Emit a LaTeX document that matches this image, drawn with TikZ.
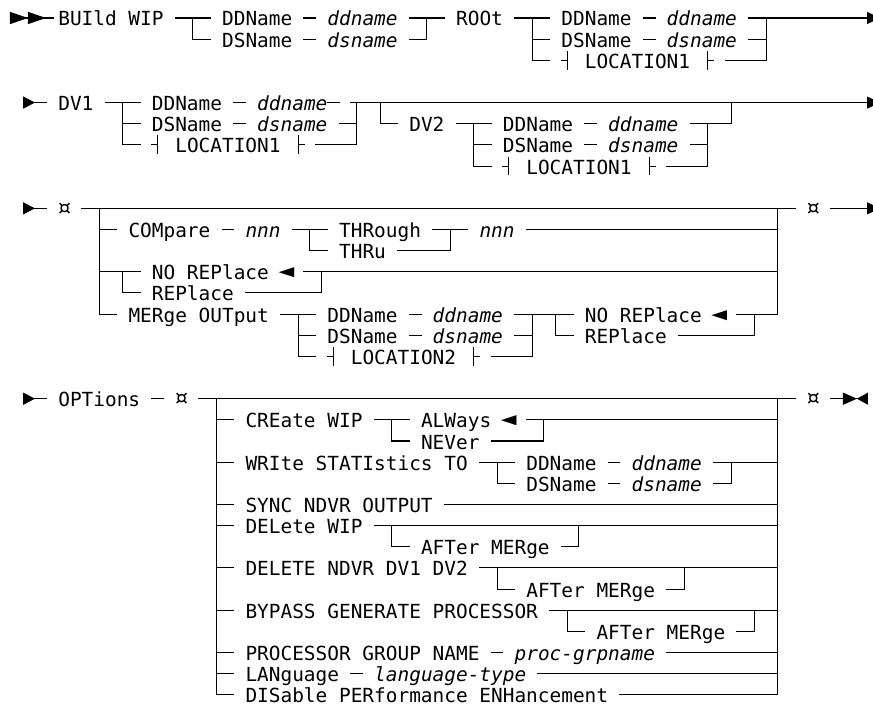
\documentclass[tikz,border=0pt]{standalone}
\usepackage{fontspec}
\usepackage{graphicx}
\setmainfont[ItalicFont={DejaVu Sans Mono Oblique}]{DejaVu Sans Mono}
\usetikzlibrary{arrows.meta,calc}
\newcommand\dflt{\makebox[11.7pt]{\scalebox{1.35}{◄}}}
\newcommand\cur{\makebox[11.7pt]{\scalebox{1.3}{¤}}}

\begin{document}
\begin{tikzpicture}[x=11.7pt,y=-21.15pt,
  every node/.style={anchor=west,inner sep=0pt,outer sep=0pt,text height=16pt,text depth=0pt,
    font=\fontsize{19.43pt}{21.15pt}\selectfont},
  var/.style={font=\fontsize{19.43pt}{21.15pt}\selectfont\itshape},
  rail/.style={line width=1.05pt,line cap=rect},
  go/.style={rail,arrows={Triangle[reversed,length=11.7pt,width=12pt]-}},
  fin/.style={rail,arrows={-Triangle[length=13pt,width=12pt]}}]
  \useasboundingbox (-0.983,-0.851) rectangle (73.63,32.624);
  \fill[white] (-0.983,-0.851) rectangle (73.63,32.624);

  \foreach \nm/\c/\r/\t in {bw/4/0/BUIld WIP,dda/18/0/DDName,dsa/18/1/DSName,root/38/0/ROOt,
      ddb/47/0/DDName,dsb/47/1/DSName,loca/49/2/LOCATION1,
      dv1/4/4/DV1,ddc/12/4/DDName,dsc/12/5/DSName,locb/14/6/LOCATION1,dv2/34/5/DV2,
      ddd/42/5/DDName,dsd/42/6/DSName,locc/44/7/LOCATION1,
      cur1/4/9/\cur,cur2/68/9/\cur,cmp/10/10/COMpare,thro/28/10/THRough,thru/28/11/THRu,
      norpa/12/12/NO REPlace \dflt,rpa/12/13/REPlace,merge/10/14/MERge OUTput,dde/27/14/DDName,
      dse/27/15/DSName,locd/29/16/LOCATION2,norpb/49/14/NO REPlace \dflt,rpb/49/15/REPlace,
      opt/4/18/OPTions,cur3/14/18/\cur,cur4/68/18/\cur,cre/20/19/CREate WIP,alw/35/19/ALWays \dflt,
      nev/35/20/NEVer,wri/20/21/WRIte STATIstics TO,ddf/44/21/DDName,dsf/44/22/DSName,
      syn/20/23/SYNC NDVR OUTPUT,del/20/24/DELete WIP,afta/35/25/AFTer MERge,
      dnd/20/26/DELETE NDVR DV1 DV2,aftb/44/27/AFTer MERge,byp/20/28/BYPASS GENERATE PROCESSOR,
      aftc/50/29/AFTer MERge,pgn/20/30/PROCESSOR GROUP NAME,lan/20/31/LANguage,
      dis/20/32/DISable PERformance ENHancement}
    \node (\nm) at (\c,\r) {\t};
  \foreach \nm/\c/\r/\t in {ddna/27/0/ddname,dsna/27/1/dsname,ddnb/56/0/ddname,dsnb/56/1/dsname,
      ddnc/21/4/ddname,dsnc/21/5/dsname,ddnd/51/5/ddname,dsnd/51/6/dsname,
      nnna/20/10/nnn,nnnb/40/10/nnn,ddne/36/14/ddname,dsne/36/15/dsname,
      ddnf/53/21/ddname,dsnf/53/22/dsname,pgv/43/30/proc-grpname,lanv/31/31/language-type}
    \node[var] (\nm) at (\c,\r) {\t};

  \coordinate (s1) at (-0.13,0);
  \coordinate (s2) at (1,4);
  \coordinate (s3) at (1,9);
  \coordinate (s4) at (1,18);
  \coordinate (e1) at (74.23,0);
  \coordinate (e2) at (74.23,4);
  \coordinate (e3) at (74.23,9);
  \coordinate (e4) at (73.2,18);

  \foreach \a/\b in {dda/ddna,dsa/dsna,ddb/ddnb,dsb/dsnb,ddc/ddnc,dsc/dsnc,ddd/ddnd,dsd/dsnd,
      cmp/nnna,dde/ddne,dse/dsne,opt/cur3,ddf/ddnf,dsf/dsnf,pgn/pgv,lan/lanv,
      bw/dda,ddna/root,root/ddb,dv1/ddc,dv2/ddd,nnna/thro,thro/nnnb,merge/dde,ddne/norpb,
      cur1/cur2,cur3/cur4,cre/alw,wri/ddf}
    \draw[rail] ($(\a.east)+(1,0)$) -- ($(\b.west)-(1,0)$);
  \foreach \l in {loca,locb,locc,locd}
    \draw[rail] ($(\l.west)+(-1.5,-0.42)$) -- ++(0,0.84) ($(\l.west)-(2,0)$) -- ++(0.5,0)
      ($(\l.east)+(1.5,-0.42)$) -- ++(0,0.84) ($(\l.east)+(1.5,0)$) -- ++(0.5,0);

  \draw[rail,arrows={Triangle[reversed,length=18pt,width=12pt]Triangle[reversed,length=18pt,width=12pt]-}]
    (s1) -- ($(bw.west)-(0.4,0)$);
  \draw[rail] ($(bw.east)+(2.5,0)$) |- ($(dsa.west)-(1,0)$);
  \draw[rail] ($(dsna.east)+(1,0)$) -| ($(ddna.east)+(2.5,0)$);
  \draw[rail] ($(root.east)+(2.5,0)$) |- ($(dsb.west)-(1,0)$);
  \draw[rail] ($(root.east)+(2.5,1)$) |- ($(loca.west)-(3,0)$);
  \draw[fin] ($(ddnb.east)+(1,0)$) -- (e1);
  \draw[rail] ($(dsnb.east)+(1,0)$) -| ($(ddnb.east)+(2.5,0)$);
  \draw[rail] ($(loca.east)+(3,0)$) -| ($(dsnb.east)+(2.5,0)$);

  \draw[go] (s2) -- ($(dv1.west)-(1,0)$);
  \draw[rail] ($(dv1.east)+(2.5,0)$) |- ($(dsc.west)-(1,0)$);
  \draw[rail] ($(dv1.east)+(2.5,1)$) |- ($(locb.west)-(3,0)$);
  \draw[rail] (ddnc.east) -- ++(1,0);
  \draw[fin] ($(ddnc.east)+(2,0)$) -- (e2);
  \draw[rail] ($(dsnc.east)+(1,0)$) -| ($(ddnc.east)+(2.5,0)$);
  \draw[rail] ($(locb.east)+(3,0)$) -| ($(dsnc.east)+(2.5,0)$);
  \draw[rail] ($(ddnc.east)+(4.5,0)$) |- ($(dv2.west)-(1,0)$);
  \draw[rail] ($(dv2.east)+(2.5,0)$) |- ($(dsd.west)-(1,0)$);
  \draw[rail] ($(dv2.east)+(2.5,1)$) |- ($(locc.west)-(3,0)$);
  \draw[rail] ($(ddnd.east)+(1,0)$) -| ($(ddnd.east)+(4.5,-1)$);
  \draw[rail] ($(dsnd.east)+(1,0)$) -| ($(ddnd.east)+(2.5,0)$);
  \draw[rail] ($(locc.east)+(3,0)$) -| ($(dsnd.east)+(2.5,0)$);

  \coordinate (la) at ($(cur1.east)+(2.5,0)$);
  \coordinate (ra) at ($(cur2.west)-(2.5,0)$);
  \draw[go] (s3) -- ($(cur1.west)-(1,0)$);
  \draw[fin] ($(cur2.east)+(1,0)$) -- (e3);
  \foreach \n in {cmp,norpa,merge}
    \draw[rail] (la) |- ($(\n.west)-(1,0)$);
  \draw[rail] (ra) -- ($(ra)+(0,5)$);
  \foreach \n in {norpa,nnnb,norpb}
    \draw[rail] ($(\n.east)+(1,0)$) -- (\n.east -| ra);
  \draw[rail] ($(norpa.west)-(2.5,0)$) |- ($(rpa.west)-(1,0)$);
  \draw[rail] ($(rpa.east)+(1,0)$) -| ($(norpa.east)+(2.5,0)$);
  \draw[rail] ($(nnna.east)+(2.5,0)$) |- ($(thru.west)-(1,0)$);
  \draw[rail] ($(thru.east)+(1,0)$) -| ($(thro.east)+(2.5,0)$);
  \draw[rail] ($(merge.east)+(2.5,0)$) |- ($(dse.west)-(1,0)$);
  \draw[rail] ($(merge.east)+(2.5,1)$) |- ($(locd.west)-(3,0)$);
  \draw[rail] ($(dsne.east)+(1,0)$) -| ($(ddne.east)+(2.5,0)$);
  \draw[rail] ($(locd.east)+(3,0)$) -| ($(dsne.east)+(2.5,0)$);
  \draw[rail] ($(norpb.west)-(2.5,0)$) |- ($(rpb.west)-(1,0)$);
  \draw[rail] ($(rpb.east)+(1,0)$) -| ($(norpb.east)+(2.5,0)$);

  \coordinate (lb) at ($(cur3.east)+(2.5,0)$);
  \coordinate (rb) at ($(cur4.west)-(2.5,0)$);
  \draw[go] (s4) -- ($(opt.west)-(1,0)$);
  \draw[rail,arrows={-Triangle[length=14pt,width=12pt]Triangle[reversed,length=11pt,width=12pt]}]
    ($(cur4.east)+(1,0)$) -- (e4);
  \foreach \n in {cre,wri,syn,del,dnd,byp,pgn,lan,dis}
    \draw[rail] (lb) |- ($(\n.west)-(1,0)$);
  \draw[rail] (rb) -- (rb |- dis.east);
  \foreach \n in {alw,ddnf,syn,del,dnd,byp,pgv,lanv,dis}
    \draw[rail] ($(\n.east)+(1,0)$) -- (\n.east -| rb);
  \draw[rail] ($(cre.east)+(2.5,0)$) |- ($(nev.west)-(1,0)$);
  \draw[rail] ($(nev.east)+(1,0)$) -| ($(alw.east)+(2.5,0)$);
  \draw[rail] ($(wri.east)+(2.5,0)$) |- ($(dsf.west)-(1,0)$);
  \draw[rail] ($(dsnf.east)+(1,0)$) -| ($(ddnf.east)+(2.5,0)$);
  \foreach \o/\a in {del/afta,dnd/aftb,byp/aftc} {
    \draw[rail] ($(\o.east)+(2.5,0)$) |- ($(\a.west)-(1,0)$);
    \draw[rail] ($(\a.east)+(1,0)$) -| ($(\a.east)+(2.5,-1)$);
  }
\end{tikzpicture}
\end{document}
